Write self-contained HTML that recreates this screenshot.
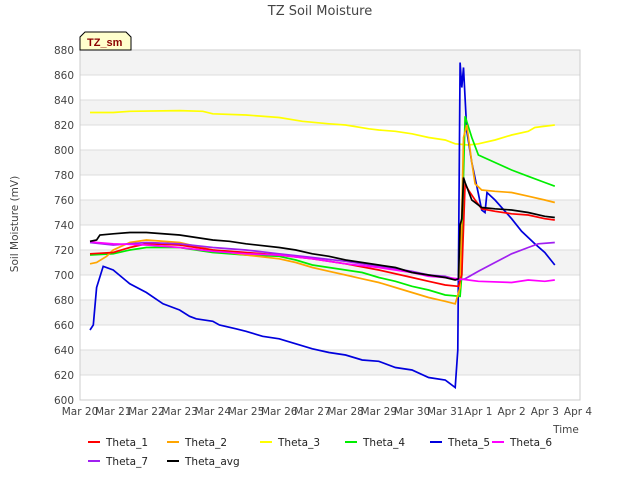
<!DOCTYPE html>
<html><head><meta charset="utf-8"><style>
body{margin:0;background:#fff;font-family:"Liberation Sans",sans-serif}
svg text{font-family:"DejaVu Sans","Liberation Sans",sans-serif}
svg text.badge{font-family:"Liberation Sans",sans-serif}
</style></head><body>
<svg id="c" width="640" height="480" xmlns="http://www.w3.org/2000/svg">
<text x="320" y="15" text-anchor="middle" font-size="13" fill="#444">TZ Soil Moisture</text>
<g id="plot"></g>
<text transform="translate(18,224) rotate(-90)" text-anchor="middle" font-size="10.5" fill="#444">Soil Moisture (mV)</text>
<text x="566" y="433" text-anchor="middle" font-size="10.5" fill="#444">Time</text>
<g>
<path d="M80,50 L80,37 L85,32 L126,32 L131,37 L131,50 Z" fill="#ffffcc" stroke="#000" stroke-width="1"/>
<text class="badge" x="87" y="46" font-size="11" font-weight="bold" fill="#8b0000">TZ_sm</text>
</g>
<g id="legend"></g>
</svg>
<script>
const yTicks=[600,620,640,660,680,700,720,740,760,780,800,820,840,860,880];
const xTickLabels=["Mar 20","Mar 21","Mar 22","Mar 23","Mar 24","Mar 25","Mar 26","Mar 27","Mar 28","Mar 29","Mar 30","Mar 31","Apr 1","Apr 2","Apr 3","Apr 4"];
const seriesNames=["Theta_1","Theta_2","Theta_3","Theta_4","Theta_5","Theta_6","Theta_7","Theta_avg"];
const seriesColors=["#ff0000","#ffa500","#ffff00","#00ee00","#0000dd","#ff00ff","#a020f0","#000000"];
const theta1=[[0.3,717],[1,718],[1.5,722],[2,725],[3,724],[4,720],[5,718],[6,716],[7,713],[8,709],[9,704],[10,698],[10.5,695],[11,692],[11.4,691],[11.5,700],[11.6,773],[11.7,768],[11.9,760],[12.1,753],[12.5,751],[13,749],[13.5,748],[14,745],[14.3,744]];
const theta2=[[0.3,709],[0.5,710],[0.8,715],[1,720],[1.5,726],[2,728],[3,726],[3.5,723],[4,720],[5,716],[6,713],[6.5,710],[7,706],[7.5,703],[8,700],[8.5,697],[9,694],[9.5,690],[10,686],[10.5,682],[11,679],[11.3,677],[11.45,690],[11.55,810],[11.65,820],[11.8,790],[11.9,773],[12.1,768],[12.5,767],[13,766],[13.5,763],[14,760],[14.3,758]];
const theta3=[[0.3,830],[1,830],[1.5,831],[3,831.5],[3.7,831],[4,829],[5,828],[6,826],[6.7,823],[7.5,821],[8,820],[8.7,817],[9,816],[9.5,815],[10,813],[10.5,810],[11,808],[11.3,805],[11.7,804],[12,805],[12.5,808],[13,812],[13.5,815],[13.7,818],[14.3,820]];
const theta4=[[0.3,716],[1,717],[1.5,720],[2,722],[3,722],[3.5,720],[4,718],[5,716],[6,715],[6.5,712],[7,708],[8,704],[8.5,702],[9,698],[9.5,695],[10,691],[10.5,688],[11,684],[11.45,683],[11.5,700],[11.55,780],[11.6,827],[11.8,810],[12,796],[12.5,790],[13,784],[13.5,779],[14,774],[14.3,771]];
const theta5=[[0.3,656],[0.4,660],[0.5,690],[0.7,707],[1,704],[1.5,693],[2,686],[2.5,677],[3,672],[3.3,667],[3.5,665],[4,663],[4.2,660],[4.7,657],[5,655],[5.5,651],[6,649],[6.5,645],[7,641],[7.5,638],[8,636],[8.5,632],[9,631],[9.5,626],[10,624],[10.5,618],[11,616],[11.3,610],[11.38,640],[11.45,870],[11.5,850],[11.55,866],[11.65,815],[11.8,790],[12,765],[12.1,752],[12.2,750],[12.26,766],[12.5,760],[13,745],[13.3,735],[13.7,725],[14,718],[14.3,708]];
const theta6=[[0.3,727],[0.5,726],[1,725],[2,724],[3,722],[4,719],[5,717],[6,716],[7,713],[8,709],[9,706],[10,702],[10.5,699],[11,698],[11.4,697],[11.7,696],[12,695],[13,694],[13.5,696],[14,695],[14.3,696]];
const theta7=[[0.3,726],[1,724],[2,726],[3,725],[4,722],[5,720],[6,717],[7,714],[8,711],[9,707],[10,703],[10.5,700],[11,699],[11.4,696],[11.6,697],[12,703],[12.5,710],[13,717],[13.5,722],[13.8,725],[14.3,726]];
const thetaAvg=[[0.3,727],[0.5,728],[0.6,732],[1,733],[1.5,734],[2,734],[3,732],[3.5,730],[4,728],[4.5,727],[5,725],[6,722],[6.5,720],[7,717],[7.5,715],[8,712],[8.5,710],[9,708],[9.5,706],[10,702],[10.5,700],[11,698],[11.3,696],[11.4,697],[11.45,740],[11.5,745],[11.55,778],[11.6,774],[11.8,760],[12.1,754],[12.5,753],[13,752],[13.5,750],[14,747],[14.3,746]];
const seriesData=[theta1,theta2,theta3,theta4,theta5,theta6,theta7,thetaAvg];
const NS="http://www.w3.org/2000/svg";
const L=80,R=580,T=50,B=400;
const yMin=600,yMax=880,days=15,dayW=(578-80)/15;
const xs=d=>L+d*dayW;
const ys=v=>B-(v-yMin)/(yMax-yMin)*(B-T);
function mk(t,a,p){const e=document.createElementNS(NS,t);for(const k in a)e.setAttribute(k,a[k]);p.appendChild(e);return e;}
const plot=document.getElementById('plot');
for(let i=0;i<yTicks.length-1;i++){
  if(i%2===1){const r=mk('rect',{x:L,y:ys(yTicks[i+1]),width:R-L,height:ys(yTicks[i])-ys(yTicks[i+1]),fill:'#f3f3f3'},plot);
  
  }
}
yTicks.forEach(v=>{
  const g=mk('line',{x1:L,x2:R,y1:ys(v),y2:ys(v),stroke:'#dddddd','stroke-width':1},plot);
  
  
  const t=mk('text',{x:L-6,y:ys(v)+4,'text-anchor':'end','font-size':10.5,fill:'#444'},plot);
  
  
  t.textContent=v;
});
xTickLabels.forEach((s,i)=>{
  const t=mk('text',{x:xs(i),y:B+15,'text-anchor':'middle','font-size':10.5,fill:'#444'},plot);
  
  
  t.textContent=s;
});
const fr=mk('rect',{x:L,y:T,width:R-L,height:B-T,fill:'none',stroke:'#cccccc'},plot);


const drawOrder=[2,4,3,1,0,6,5,7];
drawOrder.forEach(i=>{
  const p=mk('polyline',{points:seriesData[i].map(d=>xs(d[0]).toFixed(1)+','+ys(d[1]).toFixed(1)).join(' '),fill:'none',stroke:seriesColors[i],'stroke-width':1.7},plot);
  
  
});
const leg=document.getElementById('legend');
const legPos=[[88,442],[167,442],[260,442],[345,442],[430,442],[492,442],[88,461],[167,461]];
seriesNames.forEach((n,i)=>{
  const g=mk('g',{},leg);
  
  
  const [x,y]=legPos[i];
  mk('line',{x1:x,x2:x+12,y1:y,y2:y,stroke:seriesColors[i],'stroke-width':2},g);
  const t=mk('text',{x:x+18,y:y+4,'font-size':10.5,fill:'#222'},g);
  t.textContent=n;
});
</script>
</body></html>
